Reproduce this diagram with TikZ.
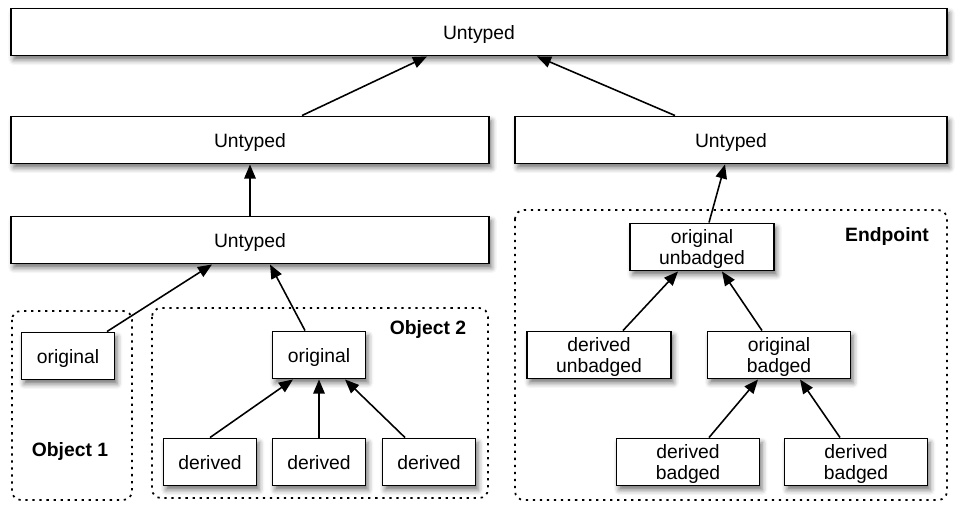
\documentclass[tikz,border=0pt]{standalone}
\usepackage{fontspec}
\setmainfont{Liberation Sans}
\usetikzlibrary{arrows.meta,calc,shadows.blur}
\tikzset{every node/.append style={align=center}}
\tikzset{
  typebox/.style={draw, line width=1.1pt, fill=white, inner sep=0pt,
    minimum height=0.94cm, text depth=0pt,
    blur shadow={shadow xshift=1.5pt, shadow yshift=-2.5pt,
      shadow blur radius=3pt, shadow opacity=55}},
  groupbox/.style={draw, line width=1pt, dash pattern=on 1.3pt off 2.7pt,
    rounded corners=5pt},
  grouplabel/.style={font=\fontsize{11}{13}\selectfont\bfseries},
  isa/.style={-{Triangle[length=8pt,width=6.5pt]}, line width=0.9pt},
}

\begin{document}
\begin{tikzpicture}[x=0.02cm, y=-0.02cm, font=\fontsize{11}{12.5}\selectfont]
  \useasboundingbox (0,0) rectangle (963,517);

  % Groups (dotted)
  \draw[groupbox] (12,311) rectangle (132,500);
  \draw[groupbox] (152,308) rectangle (488,498);
  \draw[groupbox] (515,210) rectangle (947,500);
  \node[grouplabel] (lblobj1) at (70,451) {Object 1};
  \node[grouplabel] (lblobj2) at (428,329) {Object 2};
  \node[grouplabel] (lblend) at (887,237) {Endpoint};

  % Untyped levels
  \node[typebox, minimum width=18.72cm] (untop) at (479,32) {Untyped};
  \node[typebox, minimum width=9.56cm] (untmidl) at (250,140) {Untyped};
  \node[typebox, minimum width=8.64cm] (untmidr) at (731,140) {Untyped};
  \node[typebox, minimum width=9.56cm] (untlow) at (250,240) {Untyped};

  % Object 1
  \node[typebox, minimum width=1.86cm] (origa) at (68,356) {original};

  % Object 2
  \node[typebox, minimum width=1.86cm] (origb) at (319,355) {original};
  \node[typebox, minimum width=1.86cm] (derb1) at (210,462) {derived};
  \node[typebox, minimum width=1.86cm] (derb2) at (319,462) {derived};
  \node[typebox, minimum width=1.86cm] (derb3) at (429,462) {derived};

  % Endpoint
  \node[typebox, minimum width=2.88cm] (origunb) at (702,247) {original\\unbadged};
  \node[typebox, minimum width=2.88cm] (derunb) at (599,355) {derived\\unbadged};
  \node[typebox, minimum width=2.86cm] (origbdg) at (779,355) {original\\badged};
  \node[typebox, minimum width=2.86cm] (derbdg1) at (688,462) {derived\\badged};
  \node[typebox, minimum width=2.86cm] (derbdg2) at (856,462) {derived\\badged};

  % Arrows up the hierarchy
  \draw[isa] ($(untmidl.north)+(52,0)$) -- ($(untop.south)+(-52,0)$);
  \draw[isa] ($(untmidr.north)+(-56,0)$) -- ($(untop.south)+(58,0)$);
  \draw[isa] (untlow.north) -- (untmidl.south);
  \draw[isa] ($(origunb.north)+(7,0)$) -- ($(untmidr.south)+(-6,0)$);

  \draw[isa] ($(origa.north)+(39,0)$) -- ($(untlow.south)+(-38,0)$);
  \draw[isa] ($(origb.north)+(-14,0)$) -- ($(untlow.south)+(20,0)$);
  \draw[isa] (derb1.north) -- ($(origb.south)+(-26,0)$);
  \draw[isa] (derb2.north) -- (origb.south);
  \draw[isa] ($(derb3.north)+(-24,0)$) -- ($(origb.south)+(26,0)$);

  \draw[isa] ($(derunb.north)+(24,0)$) -- ($(origunb.south)+(-24,0)$);
  \draw[isa] ($(origbdg.north)+(-17,0)$) -- ($(origunb.south)+(20,0)$);
  \draw[isa] ($(derbdg1.north)+(21,0)$) -- ($(origbdg.south)+(-21,0)$);
  \draw[isa] ($(derbdg2.north)+(-16,0)$) -- ($(origbdg.south)+(21,0)$);

\end{tikzpicture}
\end{document}
